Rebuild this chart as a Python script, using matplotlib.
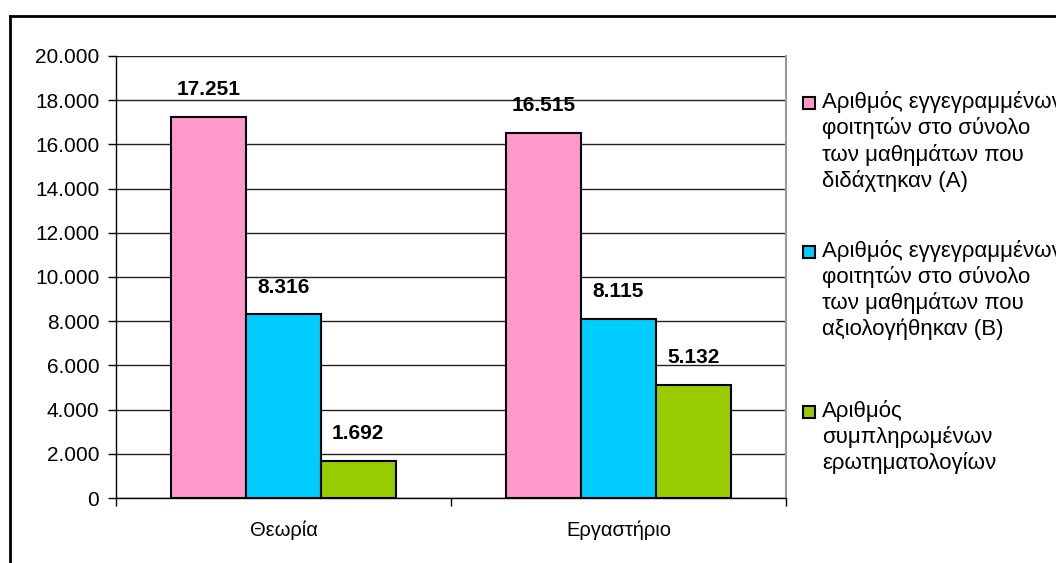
import numpy as np
import matplotlib
matplotlib.use("Agg")
import matplotlib.pyplot as plt
from matplotlib.patches import Rectangle
from matplotlib.lines import Line2D
from matplotlib.ticker import FuncFormatter, FixedLocator

plt.rcParams['font.family'] = ['Liberation Sans', 'DejaVu Sans']

categories = ["Θεωρία", "Εργαστήριο"]
series_names = [
    "Αριθμός εγγεγραμμένων\nφοιτητών στο σύνολο\nτων μαθημάτων που\nδιδάχτηκαν (Α)",
    "Αριθμός εγγεγραμμένων\nφοιτητών στο σύνολο\nτων μαθημάτων που\nαξιολογήθηκαν (Β)",
    "Αριθμός\nσυμπληρωμένων\nερωτηματολογίων",
]
enrolled_taught = [17251, 16515]
enrolled_evaluated = [8316, 8115]
questionnaires = [1692, 5132]
colors = ["#FF99CC", "#00CCFF", "#99CC00"]


def fmt(v, pos=None):
    return f"{int(v):,}".replace(",", ".")


fig = plt.figure(figsize=(10.56, 5.63), dpi=100)
ax = fig.add_axes([116 / 1056, 1 - 498 / 563, (786 - 116) / 1056, (498 - 56) / 563])

x = np.arange(len(categories))
w = 0.223
series = [enrolled_taught, enrolled_evaluated, questionnaires]
for i, (vals, col) in enumerate(zip(series, colors)):
    bars = ax.bar(x + (i - 1) * w, vals, w, color=col, edgecolor="black",
                  linewidth=1.5, zorder=3)
    for b, v in zip(bars, vals):
        ax.annotate(fmt(v), (b.get_x() + b.get_width() / 2, v),
                    xytext=(0, 19.5), textcoords="offset points",
                    ha="center", va="center", fontsize=15, fontweight="bold")

ax.set_xlim(-0.5, 1.5)
ax.set_ylim(0, 20000)
ax.set_yticks(np.arange(0, 20001, 2000))
ax.yaxis.set_major_formatter(FuncFormatter(fmt))
ax.yaxis.grid(True, color="#222222", linewidth=1, zorder=0)
ax.tick_params(axis="y", length=6, width=1, labelsize=15, pad=6)

ax.xaxis.set_major_locator(FixedLocator([-0.5, 0.5, 1.5]))
ax.xaxis.set_minor_locator(FixedLocator(x))
ax.xaxis.set_major_formatter(FuncFormatter(lambda v, p: ""))
ax.set_xticklabels(categories, minor=True)
ax.tick_params(axis="x", which="major", length=6, width=1)
ax.tick_params(axis="x", which="minor", length=0, labelsize=14.5, pad=16)

ax.spines["top"].set_visible(False)
ax.spines["right"].set_color("#999999")
ax.spines["right"].set_linewidth(1.5)
ax.spines["left"].set_linewidth(1)
ax.spines["bottom"].set_linewidth(1)

# legend, drawn by hand so the square sits on the first line
ly = [103, 252, 412]
for name, col, y in zip(series_names, colors, ly):
    fig.add_artist(Rectangle((803 / 1056, 1 - (y + 6) / 563), 12 / 1056, 12 / 563,
                             transform=fig.transFigure, facecolor=col,
                             edgecolor="black", linewidth=1.5))
    fig.text(822 / 1056, 1 - (y - 12) / 563, name, fontsize=16, va="top",
             ha="left", linespacing=1.25)

# outer chart frame (right/bottom fall outside the image)
fig.add_artist(Line2D([10 / 1056, 10 / 1056], [0, 1 - 16 / 563],
                      transform=fig.transFigure, color="black", linewidth=2))
fig.add_artist(Line2D([10 / 1056, 1], [1 - 16 / 563, 1 - 16 / 563],
                      transform=fig.transFigure, color="black", linewidth=2))

fig.savefig("out.png", dpi=100)
